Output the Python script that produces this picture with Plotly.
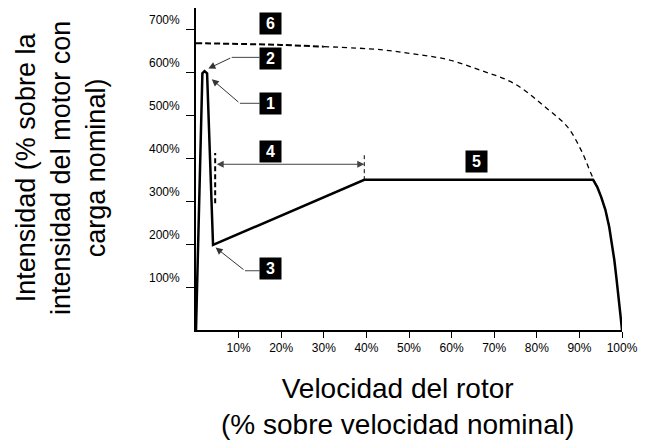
import plotly.graph_objects as go

# current curve (% of rotor speed, % of FLC)
speed = [0, 1.5, 2.0, 2.6, 4.0, 39.5, 93.2, 94.2, 95.1, 96.1, 97.0, 97.7, 98.2, 98.7, 99.1, 99.6, 100]
current = [0, 598, 603, 598, 198, 350, 350, 333, 310, 280, 240, 200, 163, 120, 77, 38, 0]

# DOL current curve (dashed, marker 6)
dol_speed = [0, 20, 30, 43.3, 51, 59, 66.8, 74.7, 82.5, 87.2, 90.4, 92.7, 95.3, 97.2]
dol_current = [668, 664, 660, 653, 643, 630, 605, 574, 515, 473, 419, 365, 305, 233]
split = 2  # left part drawn thicker

x_ticks = [10, 20, 30, 40, 50, 60, 70, 80, 90, 100]
x_labels = ["10%", "20%", "30%", "40%", "50%", "60%", "70%", "80%", "90%", "100%"]
y_ticks = [100, 200, 300, 400, 500, 600, 700]
y_labels = ["100%", "200%", "300%", "400%", "500%", "600%", "700%"]

# numbered markers: label, x, y
markers = [("1", 17.4, 528), ("2", 17.4, 633), ("3", 17.4, 143),
           ("4", 17.4, 415), ("5", 65.9, 392), ("6", 17.4, 714)]
# leader lines: marker, horizontal start x, bend x, y level, arrow tip x, tip y
leaders = [("1", 14.9, 10.3, 528, 3.7, 584),
           ("2", 14.9, 8.4, 635, 2.9, 609),
           ("3", 14.9, 11.5, 138, 4.6, 192)]

ramp_start, ramp_end = 4.5, 39.5
ramp_arrow_y = 386

font = "Liberation Sans, Arial, sans-serif"

fig = go.Figure()

fig.add_trace(go.Scatter(x=dol_speed[:split + 1], y=dol_current[:split + 1], mode="lines",
                         line=dict(color="black", width=2, dash="6px,3px", shape="spline")))
fig.add_trace(go.Scatter(x=dol_speed[split:], y=dol_current[split:], mode="lines",
                         line=dict(color="black", width=1.3, dash="5px,4px", shape="spline")))
fig.add_trace(go.Scatter(x=speed, y=current, mode="lines",
                         line=dict(color="black", width=2.5)))

# vertical dashed marks for the ramp time
fig.add_trace(go.Scatter(x=[ramp_start, ramp_start], y=[295, 412], mode="lines",
                         line=dict(color="black", width=2, dash="5px,3px")))
fig.add_trace(go.Scatter(x=[ramp_end, ramp_end], y=[349, 407], mode="lines",
                         line=dict(color="black", width=1, dash="4px,3px")))

# double arrow for the ramp
fig.add_annotation(x=ramp_end, y=ramp_arrow_y, ax=ramp_start, ay=ramp_arrow_y,
                   xref="x", yref="y", axref="x", ayref="y", text="",
                   showarrow=True, arrowhead=2, startarrowhead=2, arrowside="end+start",
                   arrowsize=1.4, startarrowsize=1.4, arrowwidth=1, arrowcolor="#444")

# leader lines
for lab, x0, x1, yl, tx, ty in leaders:
    fig.add_trace(go.Scatter(x=[x0, x1], y=[yl, yl], mode="lines",
                             line=dict(color="#444", width=1)))
    fig.add_annotation(x=tx, y=ty, ax=x1, ay=yl, xref="x", yref="y", axref="x", ayref="y",
                       text="", showarrow=True, arrowhead=2, arrowsize=1.4,
                       arrowwidth=1, arrowcolor="#333")

for lab, mx, my in markers:
    fig.add_annotation(x=mx, y=my, text="<b>%s</b>" % lab, showarrow=False,
                       font=dict(family=font, size=16, color="white"),
                       bgcolor="black", width=15, height=15, borderpad=3)

# y tick labels sit above the tick marks
for v, t in zip(y_ticks, y_labels):
    fig.add_annotation(x=0, y=v, text=t, showarrow=False, xanchor="right",
                       xshift=-14, yshift=9, font=dict(family=font, size=12, color="black"))

fig.add_annotation(x=102.6, y=51, text="04737.B", textangle=-90, showarrow=False,
                   font=dict(family=font, size=11, color="black"))

fig.add_annotation(xref="paper", yref="paper", x=-0.317, y=0.503,
                   xanchor="center", yanchor="middle",
                   text="Intensidad (% sobre la<br>intensidad del motor con<br>carga nominal)",
                   textangle=-90, showarrow=False,
                   font=dict(family=font, size=27, color="black"))
fig.add_annotation(xref="paper", yref="paper", x=0.472, y=-0.238,
                   xanchor="center", yanchor="middle",
                   text="Velocidad del rotor<br>(% sobre velocidad nominal)",
                   showarrow=False, font=dict(family=font, size=28, color="black"))

# page body adds an 8px margin, so the figure is drawn 8px smaller
fig.update_layout(
    width=638, height=435,
    margin=dict(l=188, r=24, t=0, b=113),
    plot_bgcolor="white", paper_bgcolor="white",
    showlegend=False,
    font=dict(family=font, color="black"),
)
fig.update_xaxes(range=[0, 100], tickvals=x_ticks, ticktext=x_labels,
                 showgrid=False, zeroline=False, showline=True, linecolor="black",
                 linewidth=1.5, ticks="outside", ticklen=6, tickcolor="black",
                 tickfont=dict(size=12))
fig.update_yaxes(range=[0, 750], tickvals=y_ticks, showticklabels=False,
                 showgrid=False, zeroline=False, showline=True, linecolor="black",
                 linewidth=1.5, ticks="outside", ticklen=8, tickcolor="black")

fig.write_html("out.html")
